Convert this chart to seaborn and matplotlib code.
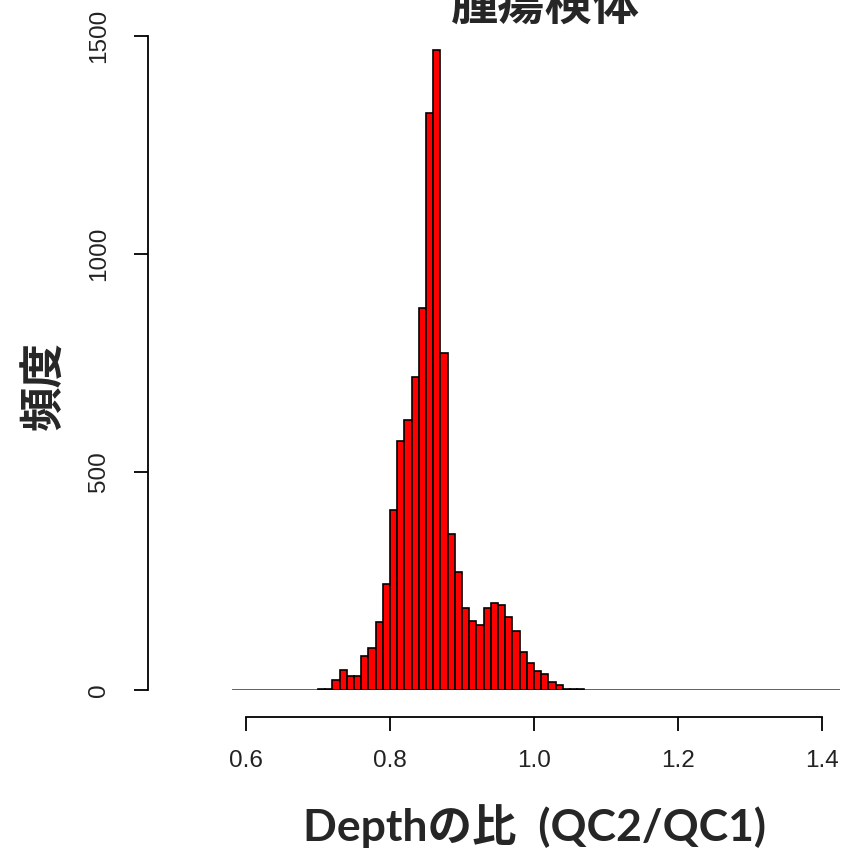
import numpy as np
import pandas as pd
import matplotlib
matplotlib.use("Agg")
import matplotlib.pyplot as plt
import seaborn as sns

# ---- data (bin width 0.01) ----
bin_edges = [round(v, 2) for v in np.linspace(0.70, 1.07, 38)]
counts = [2, 2, 23, 46, 32, 32, 78, 97, 157, 242,
          412, 571, 620, 717, 876, 1323, 1468, 774, 357, 270,
          187, 159, 150, 187, 200, 194, 168, 136, 88, 62,
          44, 37, 18, 12, 2, 2, 2]
x_ticks = [0.6, 0.8, 1.0, 1.2, 1.4]
x_tick_labels = ["0.6", "0.8", "1.0", "1.2", "1.4"]
y_ticks = [0, 500, 1000, 1500]
y_tick_labels = ["0", "500", "1000", "1500"]
title = "腫瘍検体"
xlabel = "Depthの比  (QC2/QC1)"
ylabel = "頻度"

sns.set_style("white")
plt.rcParams["font.family"] = ["Liberation Sans", "DejaVu Sans"]

W, H = 845, 856
fig = plt.figure(figsize=(W / 100, H / 100), dpi=100)
ax = fig.add_axes([232 / W, (H - 690) / H, 608 / W, 654 / H])

centers = [(a + b) / 2 for a, b in zip(bin_edges[:-1], bin_edges[1:])]
df = pd.DataFrame({"x": centers, "n": counts})
sns.histplot(data=df, x="x", weights="n", bins=bin_edges, ax=ax,
             color="#FF0000", alpha=1.0, edgecolor="black", linewidth=1.2)
ax.axhline(0, color="#333333", lw=1.8, zorder=0.5)

ax.set_xlim(0.6 + (232 - 246) / 720, 0.6 + (840 - 246) / 720)
ax.set_ylim(0, 1500)
ax.set_xlabel("")
ax.set_ylabel("")

for s in ["top", "right"]:
    ax.spines[s].set_visible(False)
ax.spines["left"].set_position(("outward", 84 * 0.72))
ax.spines["bottom"].set_position(("outward", 27 * 0.72))
ax.spines["left"].set_bounds(0, 1500)
ax.spines["bottom"].set_bounds(0.6, 1.4)
for s in ["left", "bottom"]:
    ax.spines[s].set_color("black")
    ax.spines[s].set_linewidth(1.3)

ax.set_xticks(x_ticks)
ax.set_xticklabels(x_tick_labels)
ax.set_yticks(y_ticks)
ax.set_yticklabels(y_tick_labels, rotation=90, va="center")
ax.tick_params(axis="both", which="major", direction="out", length=10,
               width=1.3, color="black", labelsize=17.5, labelcolor="#222222",
               left=True, bottom=True)
ax.tick_params(axis="x", pad=14)
ax.tick_params(axis="y", pad=17)

fig.text(545 / W, 1 - 6 / H, title, ha="center", va="center",
         fontsize=34, fontweight="bold", family=["Noto Sans CJK JP"])
fig.text(45 / W, 1 - 386 / H, ylabel, ha="center", va="center", rotation=90,
         fontsize=32, fontweight="bold", family=["Noto Sans CJK JP"])
fig.text(535 / W, 1 - 826 / H, xlabel, ha="center", va="center",
         fontsize=32, fontweight="bold", family=["Lato", "Noto Sans CJK JP"])

fig.savefig("out.png", dpi=100)
